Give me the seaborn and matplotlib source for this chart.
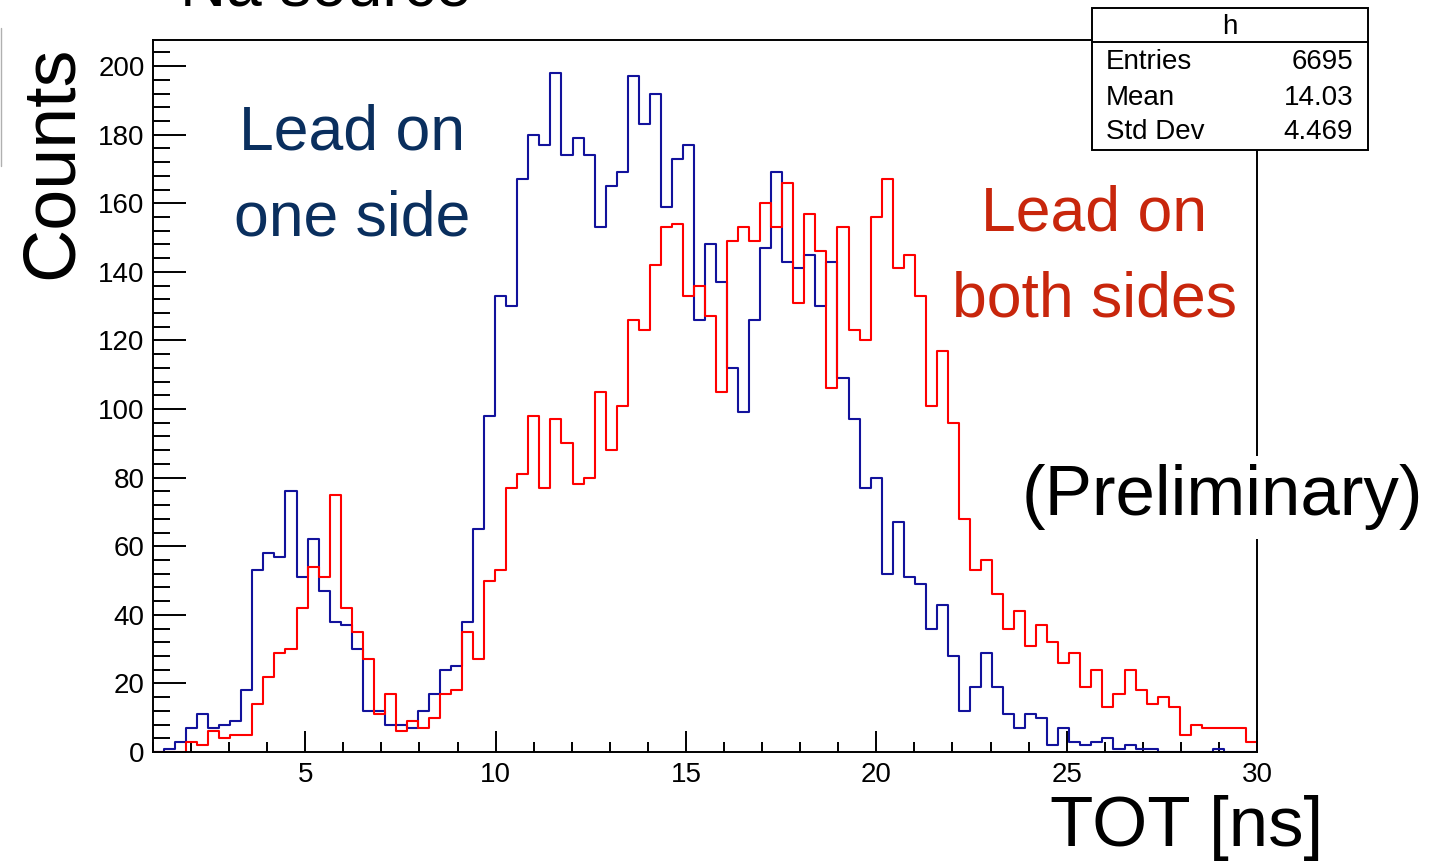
import numpy as np
import pandas as pd
import matplotlib
matplotlib.use("Agg")
import matplotlib.pyplot as plt
import seaborn as sns
from matplotlib.ticker import MultipleLocator
from matplotlib.patches import Rectangle
from matplotlib.lines import Line2D

# ------------------------------------------------------------
# Data: TOT histograms, 100 bins between 1 and 30 ns
# ------------------------------------------------------------
tot_min, tot_max, n_bins = 1.0, 30.0, 100

one_side = [
    0, 1, 3, 7, 11, 7, 8, 9, 18, 53,
    58, 57, 76, 51, 62, 47, 38, 37, 30, 12,
    12, 8, 8, 7, 12, 17, 24, 25, 38, 65,
    98, 133, 130, 167, 180, 177, 198, 174, 179, 174,
    153, 165, 169, 197, 183, 192, 159, 173, 177, 126,
    148, 137, 112, 99, 126, 147, 169, 143, 141, 145,
    130, 143, 109, 97, 77, 80, 52, 67, 51, 49,
    36, 43, 28, 12, 19, 29, 19, 11, 7, 11,
    10, 2, 7, 3, 2, 3, 4, 1, 2, 1,
    1, 0, 0, 0, 0, 0, 1, 0, 0, 0,
]

both_sides = [
    0, 0, 0, 3, 2, 6, 4, 5, 5, 14,
    22, 29, 30, 42, 54, 51, 75, 42, 35, 27,
    11, 17, 6, 9, 7, 10, 17, 18, 35, 27,
    50, 53, 77, 81, 98, 77, 97, 90, 78, 80,
    105, 88, 101, 126, 123, 142, 153, 154, 133, 136,
    127, 105, 149, 153, 149, 160, 153, 166, 131, 157,
    146, 106, 153, 123, 120, 156, 167, 141, 145, 133,
    101, 117, 96, 68, 53, 56, 46, 36, 41, 31,
    37, 32, 26, 29, 19, 24, 13, 17, 24, 18,
    14, 16, 13, 5, 8, 7, 7, 7, 7, 3,
]

stats_name = "h"
stats_labels = ["Entries", "Mean", "Std Dev"]
stats_values = ["6695", "14.03", "4.469"]

edges = np.linspace(tot_min, tot_max, n_bins + 1)
centers = 0.5 * (edges[:-1] + edges[1:])
df = pd.DataFrame({"tot": centers, "one": one_side, "both": both_sides})

# ------------------------------------------------------------
# Figure
# ------------------------------------------------------------
sns.set_style("ticks")
plt.rcParams["font.family"] = ["Liberation Sans", "DejaVu Sans"]
plt.rcParams["text.color"] = "black"

W, H = 1436, 866


def fx(px):
    return px / W


def fy(py):
    return 1 - py / H


fig = plt.figure(figsize=(W / 100, H / 100), dpi=100)
ax = fig.add_axes([fx(153), fy(752), (1257 - 153) / W, (752 - 40) / H])

sns.histplot(data=df, x="tot", weights="one", bins=n_bins,
             binrange=(tot_min, tot_max), element="step",
             fill=False, color="#12129c", linewidth=1.5, ax=ax)
sns.histplot(data=df, x="tot", weights="both", bins=n_bins,
             binrange=(tot_min, tot_max), element="step",
             fill=False, color="#ff0000", linewidth=1.5, ax=ax)

ax.set_xlim(tot_min, tot_max)
ax.set_ylim(0, 207.6)
ax.set_xlabel("")
ax.set_ylabel("")

ax.xaxis.set_major_locator(MultipleLocator(5))
ax.xaxis.set_minor_locator(MultipleLocator(1))
ax.yaxis.set_major_locator(MultipleLocator(20))
ax.yaxis.set_minor_locator(MultipleLocator(4))
ax.tick_params(axis="both", which="both", direction="in", top=False,
               right=False, width=1.4, colors="black", labelsize=20)
ax.tick_params(axis="x", which="major", length=15, pad=7)
ax.tick_params(axis="x", which="minor", length=7.5)
ax.tick_params(axis="y", which="major", length=24, pad=6)
ax.tick_params(axis="y", which="minor", length=12)
for s in ax.spines.values():
    s.set_visible(True)
    s.set_linewidth(1.4)
    s.set_color("black")

# axis titles (ROOT style, at the ends)
fig.text(fx(52), fy(162), "Counts", rotation=90, fontsize=53,
         ha="center", va="center")
fig.text(fx(1187), fy(828), "TOT [ns]", fontsize=51, ha="center", va="center")

# cut-off title at the top (the slide crops it)
fig.text(fx(180), fy(6), "Na source", fontsize=46, ha="left", va="baseline")

# annotations
fig.text(fx(352), fy(176), "Lead on\none side", fontsize=45, color="#0a2f5e",
         ha="center", va="center", linespacing=1.58)
fig.text(fx(1094), fy(257), "Lead on\nboth sides", fontsize=45,
         color="#c8260c", ha="center", va="center", linespacing=1.58)
fig.text(fx(1222), fy(497), "(Preliminary)", fontsize=51, ha="center",
         va="center", zorder=5,
         bbox=dict(facecolor="white", edgecolor="none", pad=6))

# stats box
box = Rectangle((fx(1092), fy(150)), (1368 - 1092) / W, (150 - 8) / H,
                transform=fig.transFigure, facecolor="white",
                edgecolor="black", linewidth=1.4, zorder=10)
fig.add_artist(box)
fig.add_artist(Line2D([fx(1092), fx(1368)], [fy(42), fy(42)],
                      transform=fig.transFigure, color="black",
                      linewidth=1.4, zorder=11))
fig.text(fx(1230), fy(27), stats_name, fontsize=20, ha="center",
         va="center", zorder=12)
row_y = [62, 98, 132]
for lab, val, yy in zip(stats_labels, stats_values, row_y):
    fig.text(fx(1106), fy(yy), lab, fontsize=20, ha="left", va="center",
             zorder=12)
    fig.text(fx(1353), fy(yy), val, fontsize=20, ha="right", va="center",
             zorder=12)

# slide edge artefact on the left
fig.add_artist(Line2D([fx(1), fx(1)], [fy(28), fy(166)],
                      transform=fig.transFigure, color="#b0b0b0",
                      linewidth=1.0))

fig.savefig("out.png", dpi=100)
